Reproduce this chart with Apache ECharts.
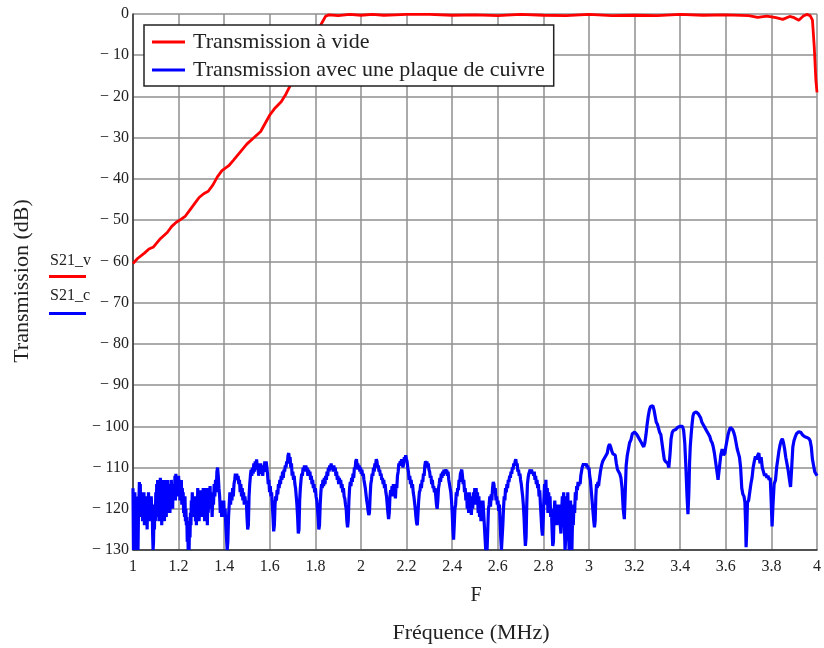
<!DOCTYPE html>
<html><head><meta charset="utf-8">
<script src="https://cdn.jsdelivr.net/npm/echarts@6/dist/echarts.min.js"></script>
<style>html,body{margin:0;padding:0;background:#fff}#c{width:824px;height:648px}</style>
</head><body><div id="c"></div>
<script>
const seriesNames = ['Transmission à vide', 'Transmission avec une plaque de cuivre'];
const xRange = [1, 4, 0.2];
const yRange = [-130, 0, 10];

// S21_v : transmission à vide  [F (MHz), dB]
const s21_v = [
[1.00,-60.5],[1.02,-59.3],[1.05,-58],[1.07,-57],[1.09,-56.5],[1.12,-54.5],[1.15,-53],[1.17,-51.5],
[1.19,-50.5],[1.21,-49.8],[1.23,-49],[1.25,-47.5],[1.27,-46],[1.29,-44.5],[1.31,-43.6],[1.33,-43],
[1.35,-41.5],[1.37,-39.5],[1.39,-38],[1.42,-36.8],[1.44,-35.5],[1.47,-33.5],[1.50,-31.5],[1.53,-30],
[1.56,-28.5],[1.58,-26.5],[1.60,-24.5],[1.62,-23],[1.65,-21.3],[1.67,-19.5],[1.69,-17.3],[1.71,-15.5],
[1.73,-13],[1.75,-11],[1.77,-8.5],[1.79,-6],[1.81,-4],[1.83,-2],[1.845,-0.5],[1.86,-0.2],[1.90,-0.4],
[1.95,-0.1],[2.00,-0.3],[2.05,-0.1],[2.10,-0.3],[2.15,-0.2],[2.20,-0.1],[2.30,-0.1],[2.40,-0.3],
[2.50,-0.2],[2.60,-0.4],[2.70,-0.1],[2.80,-0.3],[2.90,-0.4],[3.00,-0.1],[3.10,-0.4],[3.20,-0.3],
[3.30,-0.4],[3.40,-0.1],[3.50,-0.3],[3.60,-0.2],[3.70,-0.4],[3.74,-0.8],[3.78,-0.5],[3.82,-0.9],
[3.85,-1.3],[3.88,-0.6],[3.90,-0.9],[3.92,-1.5],[3.94,-0.5],[3.955,-0.1],[3.97,-0.4],[3.98,-1.5],
[3.988,-8],[3.995,-16],[4.00,-19]
];

// S21_c : transmission avec une plaque de cuivre  [F (MHz), dB]
const s21_c = [
[1.000,-115],[1.002,-130],[1.004,-118],[1.006,-127],[1.008,-116],[1.010,-122],[1.012,-120],[1.014,-130],
[1.016,-119],[1.018,-124],[1.020,-117],[1.022,-130],[1.024,-121],[1.026,-118],[1.028,-113.5],[1.030,-120],
[1.032,-114],[1.034,-122],[1.036,-117],[1.038,-119],[1.040,-116],[1.042,-123],[1.044,-117],[1.046,-121],
[1.048,-116],[1.050,-124],[1.052,-118],[1.054,-121],[1.056,-117],[1.058,-123],[1.060,-119],[1.062,-125],
[1.064,-118],[1.066,-121],[1.068,-116],[1.070,-122],[1.072,-119],[1.074,-123],[1.076,-118],[1.078,-121],
[1.080,-117],[1.082,-120],[1.084,-119],[1.086,-126],[1.088,-130],[1.090,-128],[1.092,-121],[1.094,-125],
[1.096,-119],[1.098,-123],[1.100,-116],[1.102,-122],[1.104,-114],[1.106,-120],[1.108,-113],[1.110,-121],
[1.112,-115],[1.114,-123],[1.116,-114],[1.118,-119],[1.120,-112.5],[1.122,-121],[1.124,-114],[1.126,-124],
[1.128,-116],[1.130,-121],[1.132,-113],[1.134,-122],[1.136,-115],[1.138,-123],[1.140,-113],[1.142,-119],
[1.144,-114],[1.146,-122],[1.148,-115],[1.150,-120],[1.152,-113],[1.154,-121],[1.156,-114],[1.158,-118],
[1.160,-116],[1.162,-121],[1.164,-115],[1.166,-119],[1.168,-113],[1.170,-117],[1.172,-116],[1.174,-120],
[1.176,-114],[1.178,-118],[1.180,-115],[1.182,-117],[1.184,-112],[1.186,-118],[1.188,-111.5],[1.190,-116],
[1.192,-112],[1.194,-117],[1.196,-113],[1.198,-115],[1.200,-112],[1.202,-117],[1.204,-113],[1.206,-118],
[1.208,-114],[1.210,-116],[1.212,-113],[1.214,-119],[1.216,-115],[1.218,-117],[1.220,-116],[1.222,-121],
[1.224,-118],[1.226,-122],[1.228,-117],[1.230,-123],[1.232,-120],[1.234,-124],[1.236,-122],[1.238,-128],
[1.240,-124],[1.242,-130],[1.244,-126],[1.246,-130],[1.248,-123],[1.250,-127],[1.252,-121],[1.254,-124],
[1.256,-118],[1.258,-121],[1.260,-116],[1.262,-120],[1.264,-117],[1.266,-122],[1.268,-118],[1.270,-121],
[1.272,-117],[1.274,-123],[1.276,-118],[1.278,-124],[1.280,-119],[1.282,-121],[1.284,-115],[1.286,-120],
[1.288,-116],[1.290,-123],[1.292,-117],[1.294,-121],[1.296,-115.5],[1.298,-119],[1.300,-116],
[1.302,-122],[1.304,-117],[1.306,-121],[1.308,-115],[1.310,-119],[1.312,-116],[1.314,-123],[1.316,-117],
[1.318,-121],[1.320,-115],[1.322,-120],[1.324,-116],[1.326,-124],[1.328,-118],[1.330,-121],[1.332,-115],
[1.335,-119],[1.338,-114.5],[1.341,-120],[1.344,-116],[1.347,-122],[1.350,-117],[1.353,-119],[1.356,-114],
[1.359,-117],[1.362,-113],[1.365,-116],[1.368,-111],[1.371,-110],[1.374,-112],[1.377,-115],[1.380,-117],
[1.383,-121],[1.386,-118],[1.389,-122],[1.392,-119],[1.395,-121],[1.398,-118],[1.401,-122],[1.404,-120],
[1.407,-124],[1.410,-127],[1.413,-130],[1.416,-128],[1.419,-122],[1.422,-119],[1.425,-116],[1.428,-119],
[1.431,-116],[1.434,-118],[1.437,-115],[1.440,-117],[1.443,-114],[1.446,-113],[1.449,-111.5],[1.452,-113],
[1.455,-111.5],[1.458,-113],[1.461,-112],[1.464,-114],[1.467,-113],[1.470,-116],[1.473,-114],[1.476,-117],
[1.479,-115],[1.482,-118],[1.485,-116],[1.488,-119],
[1.491,-117],[1.494,-119],[1.497,-118],[1.500,-122],[1.503,-125],[1.506,-124],[1.509,-117],[1.512,-114],
[1.515,-112],[1.518,-110.5],[1.521,-112],[1.524,-110],[1.527,-111.5],[1.530,-109],[1.533,-111],[1.536,-108.5],
[1.539,-110.5],[1.542,-108],[1.545,-110],[1.548,-109],[1.551,-112],[1.554,-110],[1.557,-111.5],[1.560,-109],
[1.563,-111],[1.566,-109.5],[1.569,-112],[1.572,-110],[1.575,-111],[1.578,-108.5],[1.581,-110.5],[1.584,-108.5],
[1.587,-110],[1.590,-111.5],[1.593,-114],[1.596,-113],[1.599,-116],[1.602,-114.5],[1.605,-117],[1.608,-116],
[1.611,-119],[1.614,-122],[1.617,-125.5],[1.620,-124],[1.623,-119],[1.626,-117],[1.629,-118],[1.632,-115.5],
[1.635,-116.5],
[1.638,-114],[1.641,-115],[1.644,-113],[1.647,-114],[1.650,-112],[1.653,-113],[1.656,-111],[1.659,-112.5],
[1.662,-110.5],[1.665,-111],[1.668,-109.5],[1.671,-110],[1.674,-108.5],[1.677,-109],[1.680,-107],[1.683,-106.5],
[1.686,-108],[1.689,-107.5],[1.692,-110],[1.695,-109],[1.698,-112],[1.701,-111],[1.704,-113],[1.707,-112],
[1.710,-114],[1.713,-115],[1.716,-117],[1.719,-119],[1.722,-122],[1.725,-126],[1.728,-125],[1.731,-118],
[1.734,-115],[1.737,-113],[1.740,-111.5],[1.743,-112],[1.746,-110],[1.749,-111],[1.752,-109.5],[1.755,-111],
[1.758,-109.5],[1.761,-110.5],[1.764,-110],[1.767,-112],[1.770,-110.5],[1.773,-112],[1.776,-111],[1.779,-113],
[1.782,-112],[1.785,-114],[1.788,-113],[1.791,-115],[1.794,-114],[1.797,-116],[1.800,-115],[1.803,-117],
[1.806,-118],[1.809,-120],[1.812,-122],[1.815,-125],[1.818,-124],[1.821,-119],
[1.824,-116],[1.827,-114],[1.830,-115],[1.833,-113],[1.836,-114.5],[1.839,-112.5],[1.842,-114],[1.845,-112],
[1.848,-113],[1.851,-111],[1.854,-112],[1.857,-110],[1.860,-111],[1.863,-109.5],[1.866,-110.5],[1.869,-109],
[1.872,-110.5],[1.875,-109.5],[1.878,-111],[1.881,-109.5],[1.884,-111],[1.887,-110],[1.890,-112],[1.893,-111],
[1.896,-113],[1.899,-112],[1.902,-114],[1.905,-112.5],[1.908,-114],[1.911,-113],[1.914,-115],[1.917,-114],
[1.920,-116],[1.923,-115],[1.926,-117],[1.929,-117.5],[1.932,-119],[1.935,-120],[1.938,-123],[1.941,-124.5],
[1.944,-123],[1.947,-118],[1.950,-115],[1.953,-113.5],[1.956,-114.5],[1.959,-112.5],[1.962,-113.5],[1.965,-111.5],
[1.968,-112.5],[1.971,-110],[1.974,-110.5],[1.977,-108.5],[1.980,-108],[1.983,-109.5],[1.986,-109],[1.989,-110.5],
[1.992,-109.5],[1.995,-111],[1.998,-110],[2.001,-111.5],[2.004,-110.5],[2.007,-112],[2.010,-111.5],[2.013,-113],
[2.016,-114],[2.019,-115],[2.022,-116.5],[2.025,-118],[2.028,-119],[2.031,-120.5],[2.034,-121.5],[2.037,-121],
[2.040,-117],[2.043,-114],[2.046,-113],[2.049,-111.5],[2.052,-112],[2.055,-110],[2.058,-111],[2.061,-109],
[2.064,-109.5],[2.067,-108],[2.070,-108.5],[2.073,-110],[2.076,-109.5],[2.079,-111],[2.082,-110.5],[2.085,-112],
[2.088,-111.5],[2.091,-113],[2.094,-112.5],[2.097,-114],[2.100,-113],[2.103,-115],[2.106,-114],[2.109,-116],
[2.112,-117],[2.115,-119],[2.118,-121],[2.121,-122.5],[2.124,-121],[2.127,-117],[2.130,-115.5],[2.133,-117],
[2.136,-114.5],[2.139,-116],[2.142,-114],[2.145,-117],[2.148,-115],[2.151,-117.5],[2.154,-114],[2.157,-115],
[2.160,-112],[2.163,-111],[2.166,-109],[2.169,-109.5],[2.172,-108.5],[2.175,-109],[2.178,-108],[2.181,-109],
[2.184,-110],
[2.187,-109],[2.190,-107.5],[2.193,-108],[2.196,-107],[2.199,-108],[2.202,-108.5],[2.205,-110],[2.208,-111],
[2.211,-113],[2.214,-112],[2.217,-114],[2.220,-113],[2.223,-115],[2.226,-114],[2.229,-116],[2.232,-117],
[2.235,-118.5],[2.238,-120],[2.241,-122],[2.244,-123.5],[2.247,-124],[2.250,-121],[2.253,-118],[2.256,-116],
[2.259,-115.5],[2.262,-114],[2.265,-115],[2.268,-113],[2.271,-113.5],[2.274,-111.5],[2.277,-112],[2.280,-109.5],
[2.283,-108.5],[2.286,-109],[2.289,-108.5],[2.292,-110],[2.295,-109],[2.298,-110.5],[2.301,-111],[2.304,-112.5],
[2.307,-112],[2.310,-114],[2.313,-113],[2.316,-115],[2.319,-114.5],[2.322,-116],[2.325,-115],[2.328,-117],
[2.331,-119],[2.334,-120],[2.337,-118],[2.340,-115],[2.343,-114],[2.346,-112.5],[2.349,-113.5],[2.352,-111.5],
[2.355,-112.5],[2.358,-111],[2.361,-112],[2.364,-110.5],[2.367,-111.5],[2.370,-110.5],[2.373,-111],[2.376,-110.5],
[2.379,-112],[2.382,-111],[2.385,-113],[2.388,-114],[2.391,-115],[2.394,-116],[2.397,-118],[2.400,-121],
[2.403,-125],[2.406,-127.5],[2.409,-124],[2.412,-120],[2.415,-119],[2.418,-116],[2.421,-117],[2.424,-115],
[2.427,-115.5],[2.430,-113],[2.433,-113.5],[2.436,-111.5],[2.439,-111],[2.442,-110.5],[2.445,-112],[2.448,-114],
[2.451,-113],[2.454,-116],[2.457,-115],[2.460,-118],[2.463,-116],[2.466,-120],[2.469,-117],[2.472,-121],
[2.475,-116],[2.478,-119],[2.481,-117],[2.484,-121.5],[2.487,-118],[2.490,-120],[2.493,-116],[2.496,-119],
[2.499,-115],
[2.502,-117],[2.505,-115],[2.508,-119],[2.511,-116],[2.514,-121],[2.517,-117],[2.520,-122],[2.523,-118],
[2.526,-123],[2.529,-119],[2.532,-122],[2.535,-118],[2.538,-121],[2.541,-124],[2.544,-127],[2.547,-130],
[2.550,-128],[2.553,-130],[2.556,-125],[2.559,-120],[2.562,-119],[2.565,-117],[2.568,-119.5],[2.571,-116.5],
[2.574,-118],[2.577,-115],[2.580,-113.5],[2.583,-114],[2.586,-116],[2.589,-115],[2.592,-118],[2.595,-117],
[2.598,-119],[2.601,-118],[2.604,-120.5],[2.607,-119],[2.610,-123],[2.613,-127],[2.616,-130],[2.619,-130],
[2.622,-124],[2.625,-120],[2.628,-117],[2.631,-118],[2.634,-115],[2.637,-116],[2.640,-114],[2.643,-115],
[2.646,-113],[2.649,-113.5],[2.652,-112],[2.655,-112.5],[2.658,-111],[2.661,-111.5],[2.664,-110],[2.667,-110.5],
[2.670,-109],[2.673,-109.5],[2.676,-108.5],[2.679,-108],[2.682,-109.5],[2.685,-109],[2.688,-111],[2.691,-110.5],
[2.694,-112],[2.697,-111.5],[2.700,-113],[2.703,-114],[2.706,-115.5],[2.709,-117],[2.712,-119],[2.715,-122],
[2.718,-126],[2.721,-129],[2.724,-127],[2.727,-119],[2.730,-114],[2.733,-112.5],[2.736,-111.5],[2.739,-111],
[2.742,-110.5],[2.745,-111.5],[2.748,-110.5],[2.751,-111.5],[2.754,-111],[2.757,-112],[2.760,-111],[2.763,-113],
[2.766,-112],[2.769,-114],[2.772,-113],[2.775,-115],[2.778,-114],[2.781,-117],[2.784,-115.5],[2.787,-119],
[2.790,-122],[2.793,-125],[2.796,-126.5],[2.799,-123],[2.802,-118],
[2.805,-114],[2.808,-117],[2.811,-113],[2.814,-119],[2.817,-115],[2.820,-121],[2.823,-116],[2.826,-120],
[2.829,-117],[2.832,-122],[2.835,-120],[2.838,-125],[2.841,-129],[2.844,-128],[2.847,-121],[2.850,-118],
[2.853,-122],[2.856,-119],[2.859,-124],[2.862,-120],[2.865,-123],[2.868,-119],[2.871,-122],[2.874,-124],
[2.877,-126],[2.880,-121],[2.883,-117],[2.886,-119],[2.889,-116],[2.892,-124],[2.895,-130],[2.898,-127],
[2.901,-117],[2.904,-121],[2.907,-116],[2.910,-125],[2.913,-130],[2.916,-128],[2.919,-118],[2.922,-125],
[2.925,-130],[2.928,-122],[2.931,-124],[2.934,-119],[2.937,-121],[2.940,-116],[2.943,-118],[2.946,-114.5],
[2.949,-115.5],[2.952,-113.5],[2.955,-114.5],[2.958,-113.5],[2.961,-114],[2.964,-112],[2.967,-111],[2.970,-110],
[2.973,-109.5],[2.976,-109],[2.979,-109.5],[2.982,-109],[2.985,-109.5],[2.988,-109],[2.991,-110],[2.994,-109.5],
[2.997,-110.5],[3.000,-110],[3.003,-112],[3.006,-113],[3.009,-115],[3.012,-117],[3.015,-119],[3.018,-121],
[3.021,-123],[3.024,-124.5],[3.027,-123],[3.030,-117],[3.033,-114],[3.036,-115],[3.039,-113.5],[3.042,-114.5],
[3.045,-113],[3.050,-111],[3.055,-109.5],[3.060,-108.5],[3.065,-108],[3.070,-107.5],[3.075,-107],[3.080,-106.5],
[3.085,-105],[3.090,-104.3],[3.095,-105],[3.100,-106],[3.105,-106.7],[3.110,-106.5],[3.115,-107],[3.120,-109],
[3.125,-110.5],[3.130,-111],[3.135,-111.5],[3.140,-112.5],[3.145,-115],[3.150,-120],[3.155,-122.5],[3.159,-116],
[3.163,-109.5],[3.168,-107],[3.173,-105.5],[3.178,-104],[3.184,-103.3],[3.190,-101.8],[3.195,-101.4],[3.200,-101.4],
[3.205,-101.5],[3.210,-102],[3.215,-102.5],[3.220,-102.8],[3.225,-103.5],[3.230,-104],[3.235,-104.5],[3.240,-105],
[3.245,-104],[3.250,-102],[3.255,-99.5],[3.260,-97.5],[3.265,-96],[3.270,-95.2],[3.275,-94.8],[3.280,-95],
[3.285,-96],[3.290,-97.5],[3.295,-99],[3.300,-99.5],[3.305,-100.5],[3.310,-101.5],[3.315,-102],[3.320,-104],
[3.325,-106],[3.330,-108],[3.335,-108.5],[3.340,-108.3],[3.345,-109],[3.350,-110],[3.355,-107],[3.360,-103],
[3.365,-101.5],[3.370,-101],[3.375,-101],[3.380,-100.8],[3.385,-100.5],[3.390,-100.2],[3.395,-100],
[3.400,-100],[3.405,-100.3],[3.410,-100],[3.415,-101],[3.420,-104],[3.425,-110],[3.430,-117],[3.434,-121.3],
[3.438,-116],[3.441,-109],[3.444,-105],[3.448,-102],[3.452,-99.5],[3.456,-97.5],[3.460,-96.8],[3.465,-96.5],
[3.470,-96.5],[3.475,-96.6],[3.480,-97],[3.485,-97],[3.490,-98],[3.495,-99],[3.500,-99.5],[3.505,-100],
[3.510,-100.5],[3.515,-101],[3.520,-101.5],[3.525,-102],[3.530,-102.5],[3.535,-103.5],[3.540,-104],
[3.545,-105],[3.550,-106.5],[3.555,-108.5],[3.560,-110.5],[3.566,-113],[3.572,-110],[3.578,-107],[3.584,-105.5],
[3.590,-107],[3.596,-106.5],[3.600,-105],[3.605,-103.5],[3.610,-102],[3.615,-101],[3.620,-100.3],[3.625,-100.2],
[3.630,-100.8],[3.635,-101.5],[3.640,-102.5],[3.645,-104],[3.650,-105.5],[3.655,-106.5],[3.660,-107.5],[3.665,-110],
[3.670,-115],[3.675,-116.5],[3.680,-117],[3.684,-118.5],[3.687,-124],[3.689,-129.3],[3.692,-125],[3.695,-118.5],
[3.700,-118],[3.705,-116],[3.710,-114],[3.715,-112.5],[3.720,-110],[3.725,-108.5],[3.730,-107.3],[3.735,-108],
[3.740,-107],[3.745,-106.5],[3.750,-109],[3.755,-107.5],[3.760,-110],[3.765,-111],[3.770,-112],[3.775,-111.5],
[3.780,-112.5],[3.785,-112],[3.790,-113],[3.795,-112.5],[3.799,-118],[3.803,-124.3],[3.807,-119],[3.812,-114],
[3.818,-113],[3.823,-110],[3.828,-108],[3.833,-106],[3.838,-104.5],[3.843,-103.5],[3.848,-103],[3.853,-104],
[3.858,-105.5],[3.863,-107.5],[3.868,-109],[3.873,-110.5],[3.878,-112.5],[3.884,-114.7],[3.889,-110],[3.894,-105],
[3.899,-103.5],[3.905,-102.5],[3.910,-101.8],[3.915,-101.5],[3.920,-101.3],[3.925,-101.3],[3.930,-101.5],[3.935,-102],
[3.940,-102],[3.945,-102.5],[3.950,-102.5],[3.955,-102.7],[3.960,-102.8],[3.965,-103],[3.970,-103.5],[3.975,-105],
[3.980,-108],[3.985,-109.5],[3.990,-111],[3.995,-111.5],[4.000,-112]
];

const FONT = 'Liberation Serif';
const TXT = '#222';
const chart = echarts.init(document.getElementById('c'), null, {renderer: 'canvas'});
const axisCommon = {
  type: 'value',
  axisLine: {show: true, onZero: false, lineStyle: {color: '#333', width: 1.5}},
  axisTick: {show: false},
  splitLine: {show: true, lineStyle: {color: '#8f8f8f', width: 1.5}},
};
chart.setOption({
  animation: false,
  backgroundColor: '#fff',
  grid: {left: 133, right: 5, top: 14, bottom: 98, containLabel: false},
  xAxis: Object.assign({}, axisCommon, {
    min: xRange[0], max: xRange[1], interval: xRange[2],
    axisLabel: {fontFamily: FONT, fontSize: 16, color: TXT, margin: 9,
      formatter: v => String(+v.toFixed(1))}
  }),
  yAxis: Object.assign({}, axisCommon, {
    min: yRange[0], max: yRange[1], interval: yRange[2],
    axisLabel: {fontFamily: FONT, fontSize: 16, color: TXT, margin: 4,
      formatter: v => v === 0 ? '0' : '\u2212 ' + Math.abs(v)}
  }),
  legend: {
    data: seriesNames,
    orient: 'vertical', left: 144, top: 25,
    backgroundColor: '#fff', borderColor: '#222', borderWidth: 1.5,
    padding: [6, 9, 5, 8], itemGap: 6, itemWidth: 33, itemHeight: 3, icon: 'rect',
    textStyle: {fontFamily: FONT, fontSize: 22, color: TXT, padding: [0, 0, 0, 3]}
  },
  series: [
    {name: seriesNames[0], type: 'line', data: s21_v, showSymbol: false, symbol: 'none',
     lineStyle: {color: '#ff0000', width: 2.8}, itemStyle: {color: '#ff0000'}, z: 3},
    {name: seriesNames[1], type: 'line', data: s21_c, showSymbol: false, symbol: 'none',
     lineStyle: {color: '#0000ff', width: 3.2}, itemStyle: {color: '#0000ff'}, z: 2}
  ],
  graphic: [
    {type: 'text', x: 22, y: 281, rotation: Math.PI / 2,
     style: {text: 'Transmission (dB)', font: '22px "Liberation Serif"', fill: TXT, align: 'center', verticalAlign: 'middle'}},
    {type: 'text', x: 476, y: 596,
     style: {text: 'F', font: '20px "Liberation Serif"', fill: TXT, align: 'center', verticalAlign: 'middle'}},
    {type: 'text', x: 471, y: 633,
     style: {text: 'Fréquence (MHz)', font: '22px "Liberation Serif"', fill: TXT, align: 'center', verticalAlign: 'middle'}},
    {type: 'text', x: 50, y: 261,
     style: {text: 'S21_v', font: '16px "Liberation Serif"', fill: TXT, align: 'left', verticalAlign: 'middle'}},
    {type: 'rect', shape: {x: 49, y: 275, width: 37, height: 3}, style: {fill: '#ff0000'}},
    {type: 'text', x: 50, y: 296,
     style: {text: 'S21_c', font: '16px "Liberation Serif"', fill: TXT, align: 'left', verticalAlign: 'middle'}},
    {type: 'rect', shape: {x: 49, y: 312, width: 37, height: 3}, style: {fill: '#0000ff'}}
  ]
});
</script></body></html>
